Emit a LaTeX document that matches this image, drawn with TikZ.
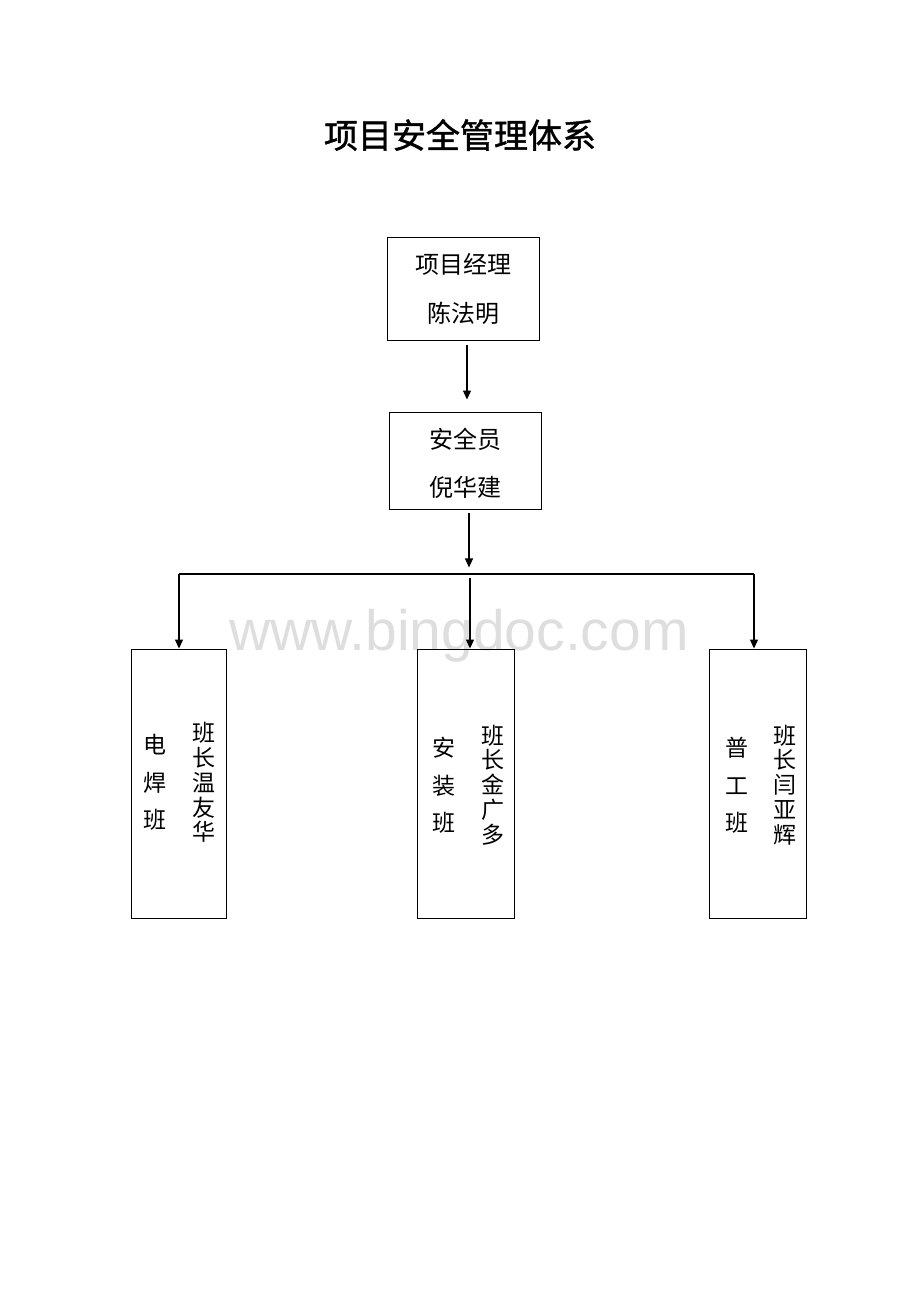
\documentclass[tikz,border=0pt]{standalone}
\usepackage{fontspec}
\setmainfont{Liberation Sans}
\newfontfamily\cjk{Noto Sans CJK SC}
\newfontfamily\cjkt[FakeBold=1.2]{Noto Sans CJK SC}
\usetikzlibrary{arrows.meta}
\definecolor{wm}{RGB}{222,222,222}
\begin{document}
\begin{tikzpicture}[x=1pt,y=-1pt,
  boxnode/.style={draw, line width=0.9pt, inner sep=0pt},
  txt/.style={inner sep=0pt, font=\fontsize{24}{24}\selectfont\cjk},
  colshort/.style={inner sep=0pt, align=center, font=\fontsize{23}{37.5}\selectfont\cjk},
  collong/.style={inner sep=0pt, align=center, font=\fontsize{23}{24.8}\selectfont\cjk},
  conn/.style={line width=1.1pt},
  arr/.style={line width=1.1pt, -{Triangle[length=9pt,width=8pt]}}]
\useasboundingbox (0,0) rectangle (920,1302);
% watermark
\node[inner sep=0pt, text=wm, font=\fontsize{57}{57}\selectfont] (wmk) at (459,636) {www.bingdoc.com};
% title
\node[inner sep=0pt, font=\fontsize{34}{34}\selectfont\cjkt] (title) at (460,135) {项目安全管理体系};
% boxes
\node[boxnode, minimum width=152pt, minimum height=103pt] (b1) at (463,288.5) {};
\node[boxnode, minimum width=152pt, minimum height=97pt] (b2) at (465,460.5) {};
\node[boxnode, minimum width=95pt, minimum height=269pt] (bl) at (178.5,783.5) {};
\node[boxnode, minimum width=97pt, minimum height=269pt] (bm) at (465.5,783.5) {};
\node[boxnode, minimum width=97pt, minimum height=269pt] (br) at (757.5,783.5) {};
% texts
\node[txt] (t1a) at (463,264) {项目经理};
\node[txt] (t1b) at (463,313) {陈法明};
\node[txt] (t2a) at (465,439) {安全员};
\node[txt] (t2b) at (465,487) {倪华建};
\node[colshort] (cl1) at (155,782.5) {电\\焊\\班};
\node[collong] (cl2) at (204,782.5) {班\\长\\温\\友\\华};
\node[colshort] (cm1) at (444,785.5) {安\\装\\班};
\node[collong] (cm2) at (493,785) {班\\长\\金\\广\\多};
\node[colshort] (cr1) at (737,785.5) {普\\工\\班};
\node[collong] (cr2) at (785,785) {班\\长\\闫\\亚\\辉};
% connectors
\draw[arr] ([shift={(4,5)}]b1.south) -- ([shift={(2,-12)}]b2.north);
\coordinate (hl) at (179,574);
\coordinate (hr) at (754,574);
\coordinate (hm) at (470,578);
\draw[arr] ([shift={(4,4)}]b2.south) -- ([shift={(4,58)}]b2.south);
\draw[conn] (hl) -- (hr);
\draw[arr] (hl) -- (hl |- bl.north);
\draw[arr] (hr) -- (hr |- br.north);
\draw[arr] (hm) -- (hm |- bm.north);
\end{tikzpicture}
\end{document}
